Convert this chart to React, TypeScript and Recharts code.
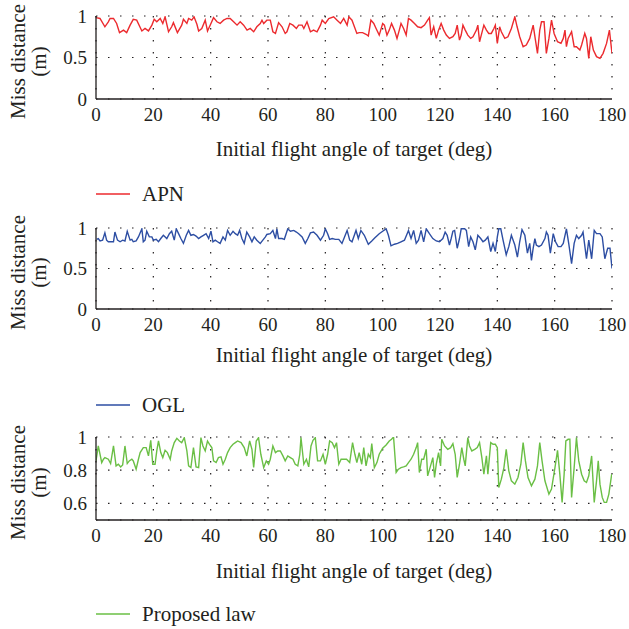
import React from 'react';
import { LineChart, Line, XAxis, YAxis, CartesianGrid } from 'recharts';

// Miss distance (m) against the initial flight angle of the target (deg): [angle, miss]
const apnSamples: [number, number][] = [
  [0, 0.98], [1.4, 0.97], [3.1, 0.87], [4.3, 0.93], [4.9, 0.97], [6.1, 0.97], [7.2, 0.91], [8.2, 0.8], [9.6, 0.83], [10.7, 0.8],
  [11.9, 0.89], [13.0, 0.96], [14.2, 0.95], [16.0, 0.82], [17.1, 0.85], [18.3, 0.82], [19.5, 0.89], [20.3, 0.96], [21.2, 0.93], [22.4, 0.97],
  [23.3, 0.91], [24.1, 0.99], [25.3, 0.81], [26.4, 0.87], [27.0, 0.92], [28.4, 0.8], [29.9, 0.89], [30.5, 0.96], [31.7, 0.91], [32.3, 0.97],
  [33.4, 0.95], [34.2, 0.99], [35.2, 0.9], [35.8, 0.82], [36.9, 0.85], [38.1, 0.95], [38.9, 0.82], [40.1, 0.91], [41.0, 0.98], [42.2, 0.93],
  [43.3, 0.91], [44.5, 0.95], [45.7, 0.97], [46.8, 0.97], [48.0, 0.93], [49.2, 0.89], [50.3, 0.93], [51.5, 0.89], [52.7, 0.83], [53.8, 0.85],
  [55.0, 0.81], [56.1, 0.87], [57.3, 0.91], [57.9, 0.95], [58.5, 0.91], [59.6, 0.95], [60.8, 0.95], [61.7, 0.81], [62.6, 0.79], [63.7, 0.92],
  [64.9, 0.87], [66.0, 0.79], [66.6, 0.81], [67.6, 0.91], [68.7, 0.89], [69.9, 0.85], [70.7, 0.89], [71.9, 0.89], [72.5, 0.85], [73.6, 0.93],
  [74.8, 0.81], [75.9, 0.83], [77.1, 0.81], [78.3, 0.89], [78.9, 0.95], [80.0, 0.91], [81.2, 0.97], [82.9, 0.99], [84.1, 0.95], [85.3, 0.91],
  [86.4, 0.97], [87.6, 0.89], [88.2, 0.99], [89.3, 0.95], [91.0, 0.79], [91.8, 0.8], [93.0, 0.8], [94.2, 0.78], [95.0, 0.76], [95.9, 0.95],
  [96.9, 0.91], [97.7, 0.85], [98.8, 0.77], [100.0, 0.91], [100.6, 0.89], [101.5, 0.77], [102.3, 0.83], [103.1, 0.91], [104.1, 0.83], [105.0, 0.73],
  [105.8, 0.83], [106.4, 0.91], [107.3, 0.85], [108.2, 0.77], [109.0, 0.97], [109.9, 0.95], [111.1, 0.91], [112.2, 0.87], [113.4, 0.86], [114.6, 0.89],
  [115.7, 0.95], [116.3, 0.98], [116.9, 0.77], [117.8, 0.87], [118.7, 0.73], [119.5, 0.83], [120.4, 0.91], [121.3, 0.83], [122.2, 0.77], [123.3, 0.73],
  [124.5, 0.75], [125.3, 0.79], [126.0, 0.89], [126.8, 0.71], [127.4, 0.77], [128.0, 0.89], [128.8, 0.83], [129.7, 0.77], [130.7, 0.73], [131.5, 0.75],
  [132.7, 0.83], [133.2, 0.89], [133.8, 0.69], [134.4, 0.77], [135.3, 0.89], [136.2, 0.83], [137.0, 0.79], [137.9, 0.79], [138.8, 0.85], [139.3, 0.89],
  [140.0, 0.67], [140.8, 0.87], [141.4, 0.81], [142.6, 0.73], [143.7, 0.75], [144.9, 0.85], [146.1, 0.99], [146.9, 0.87], [147.8, 0.75], [149.0, 0.63],
  [150.1, 0.65], [151.3, 0.73], [152.5, 0.89], [153.3, 0.71], [154.0, 0.55], [154.8, 0.83], [155.4, 0.93], [156.3, 0.93], [157.1, 0.55], [158.0, 0.73],
  [158.9, 0.95], [159.8, 0.79], [161.0, 0.69], [162.2, 0.67], [163.0, 0.73], [163.6, 0.83], [164.1, 0.63], [164.7, 0.73], [165.9, 0.81], [166.8, 0.63],
  [167.6, 0.63], [168.8, 0.59], [169.4, 0.65], [170.5, 0.79], [171.1, 0.73], [171.9, 0.49], [172.6, 0.75], [173.5, 0.59], [174.6, 0.51], [175.8, 0.49],
  [176.9, 0.55], [178.1, 0.67], [179.1, 0.83], [180, 0.55],
];

const oglSamples: [number, number][] = [
  [0.2, 0.86], [0.8, 0.87], [1.4, 0.84], [2.3, 0.85], [3.1, 0.94], [3.7, 0.85], [4.3, 0.83], [5.1, 0.83], [6.1, 0.83], [6.6, 0.95],
  [7.5, 0.85], [8.4, 0.83], [9.3, 0.85], [10.1, 0.84], [10.9, 0.96], [11.9, 0.85], [12.5, 0.86], [13.0, 0.83], [14.0, 0.84], [14.8, 0.89],
  [16.0, 0.99], [16.5, 0.83], [17.1, 0.85], [17.7, 0.96], [18.6, 0.89], [19.5, 0.89], [20.0, 0.85], [21.0, 0.86], [21.8, 0.83], [22.6, 0.87],
  [23.5, 0.91], [24.7, 0.87], [25.6, 0.93], [26.4, 0.96], [27.3, 0.85], [28.0, 0.99], [28.8, 0.93], [29.6, 0.87], [30.5, 0.81], [31.5, 0.91],
  [32.3, 0.97], [33.1, 0.91], [34.0, 0.92], [34.9, 0.9], [35.8, 0.87], [36.6, 0.89], [37.5, 0.91], [38.4, 0.93], [39.3, 0.87], [40.1, 0.96],
  [40.8, 0.83], [41.6, 0.85], [42.4, 0.83], [43.3, 0.81], [44.3, 0.89], [45.1, 0.85], [45.9, 0.97], [46.8, 0.91], [47.8, 0.96], [48.6, 0.93],
  [49.4, 0.91], [50.1, 0.97], [50.9, 0.87], [51.7, 0.81], [52.6, 0.95], [53.6, 0.89], [54.4, 0.83], [55.2, 0.89], [56.1, 0.85], [57.3, 0.81],
  [58.2, 0.85], [59.1, 0.89], [59.6, 0.92], [60.8, 0.93], [61.7, 0.97], [62.6, 0.87], [63.1, 0.99], [63.7, 0.87], [64.9, 0.87], [65.7, 0.86],
  [66.9, 0.99], [67.8, 0.96], [69.0, 0.97], [69.9, 0.95], [70.7, 0.93], [71.9, 0.89], [73.0, 0.81], [73.9, 0.87], [74.8, 0.94], [75.9, 0.95],
  [77.1, 0.91], [78.3, 0.85], [79.4, 0.91], [80.0, 0.99], [80.8, 0.93], [81.5, 0.86], [82.4, 0.87], [83.5, 0.86], [84.7, 0.86], [85.8, 0.81],
  [86.7, 0.89], [87.6, 0.97], [88.5, 0.85], [89.3, 0.83], [89.9, 0.89], [90.7, 0.97], [91.5, 0.87], [92.4, 0.97], [93.6, 0.91], [95.0, 0.8],
  [96.2, 0.84], [97.3, 0.88], [98.8, 0.93], [100.0, 0.96], [101.2, 0.99], [102.0, 0.91], [102.9, 0.78], [104.1, 0.8], [105.2, 0.81], [106.4, 0.83],
  [107.6, 0.85], [109.0, 0.97], [109.9, 0.87], [110.8, 0.97], [111.7, 0.81], [112.5, 0.85], [113.4, 0.97], [114.3, 0.83], [115.2, 0.99], [116.3, 0.93],
  [117.5, 0.87], [118.7, 0.84], [119.8, 0.83], [121.0, 0.87], [121.8, 0.95], [122.5, 0.91], [123.3, 0.79], [123.9, 0.87], [124.5, 0.96], [125.1, 0.97],
  [126.0, 0.75], [126.8, 0.87], [127.4, 0.99], [128.6, 0.99], [129.2, 0.97], [130.0, 0.77], [130.7, 0.89], [131.5, 0.83], [132.3, 0.73], [133.2, 0.91],
  [134.2, 0.87], [135.0, 0.83], [135.8, 0.85], [136.7, 0.89], [137.7, 0.71], [138.5, 0.81], [139.3, 0.71], [140.0, 0.89], [140.5, 0.99], [141.2, 0.99],
  [142.0, 0.85], [143.1, 0.67], [144.0, 0.77], [144.9, 0.91], [146.1, 0.79], [147.0, 0.64], [147.8, 0.83], [148.6, 0.98], [149.6, 0.91], [150.5, 0.69],
  [151.3, 0.81], [151.9, 0.6], [152.5, 0.75], [153.1, 0.87], [153.6, 0.79], [154.5, 0.77], [155.4, 0.79], [156.6, 0.87], [157.1, 0.95], [157.7, 0.91],
  [158.5, 0.69], [159.5, 0.93], [160.3, 0.83], [161.2, 0.77], [162.2, 0.77], [163.0, 0.81], [164.1, 0.99], [164.9, 0.81], [165.9, 0.56], [166.8, 0.81],
  [167.6, 0.91], [168.4, 0.87], [169.4, 0.91], [169.9, 0.95], [171.1, 0.62], [171.9, 0.85], [172.9, 0.62], [173.8, 0.97], [174.6, 0.93], [175.8, 0.93],
  [176.6, 0.89], [177.5, 0.62], [178.5, 0.75], [179.3, 0.75], [180, 0.5],
];

const proposedSamples: [number, number][] = [
  [0, 0.856], [0.8, 0.946], [2.0, 0.846], [2.6, 0.866], [3.1, 0.876], [4.3, 0.866], [5.1, 0.84], [6.1, 0.946], [7.0, 0.826], [7.8, 0.836],
  [8.6, 0.82], [9.3, 0.832], [10.1, 0.946], [10.9, 0.84], [11.6, 0.856], [12.5, 0.866], [13.0, 0.856], [14.0, 0.806], [14.8, 0.866], [15.4, 0.906],
  [16.5, 0.936], [17.5, 0.936], [18.3, 0.886], [19.1, 0.98], [19.8, 0.836], [20.6, 0.836], [21.2, 0.916], [21.8, 0.976], [22.6, 0.906], [23.3, 0.876],
  [24.1, 0.92], [24.9, 0.906], [25.9, 0.866], [26.4, 0.916], [27.3, 0.966], [28.2, 0.992], [29.1, 0.976], [29.9, 0.966], [30.8, 0.996], [31.7, 0.916],
  [32.3, 0.826], [33.1, 0.816], [34.0, 0.936], [34.9, 0.82], [35.8, 0.816], [36.6, 0.996], [37.3, 0.946], [38.1, 0.916], [38.9, 0.976], [39.6, 0.956],
  [40.4, 0.936], [41.0, 0.856], [41.9, 0.846], [42.7, 0.876], [43.6, 0.88], [44.3, 0.836], [45.1, 0.866], [45.9, 0.906], [46.8, 0.936], [47.8, 0.956],
  [48.6, 0.966], [49.4, 0.976], [50.6, 0.966], [51.7, 0.936], [52.6, 0.886], [53.6, 0.976], [54.4, 0.926], [55.0, 0.816], [55.9, 0.976], [56.7, 0.996],
  [57.5, 0.896], [58.5, 0.816], [59.4, 0.856], [60.2, 0.836], [60.8, 0.866], [61.7, 0.946], [62.6, 0.906], [63.4, 0.916], [64.3, 0.916], [65.2, 0.886],
  [66.0, 0.856], [66.9, 0.886], [67.8, 0.876], [68.7, 0.866], [69.5, 0.836], [70.4, 0.826], [71.1, 0.896], [71.5, 0.996], [72.5, 0.836], [73.4, 0.866],
  [74.2, 0.82], [75.0, 0.946], [75.7, 0.98], [76.5, 0.996], [77.3, 0.856], [78.3, 0.856], [79.2, 0.896], [80.0, 0.836], [80.8, 0.896], [81.5, 0.976],
  [82.4, 0.966], [83.2, 0.936], [83.9, 0.966], [84.7, 0.836], [85.5, 0.866], [86.4, 0.866], [87.4, 0.866], [88.5, 0.846], [89.5, 0.966], [90.3, 0.896],
  [91.0, 0.846], [91.8, 0.906], [92.7, 0.836], [93.4, 0.936], [94.2, 0.826], [95.0, 0.896], [95.7, 0.876], [96.2, 0.96], [97.1, 0.816], [98.0, 0.846],
  [98.8, 0.896], [100.0, 0.932], [101.2, 0.952], [102.3, 0.976], [103.1, 0.986], [103.8, 1.0], [104.7, 0.786], [105.5, 0.806], [106.4, 0.816], [107.3, 0.82],
  [108.2, 0.826], [109.0, 0.846], [109.9, 0.866], [110.8, 0.896], [111.7, 0.936], [112.2, 0.966], [112.8, 0.786], [113.6, 0.866], [114.3, 0.866], [115.2, 0.926],
  [115.7, 0.766], [116.7, 0.826], [117.5, 0.876], [118.1, 0.756], [118.7, 0.836], [119.5, 0.906], [120.2, 0.826], [120.6, 0.986], [121.6, 0.946], [122.7, 0.926],
  [123.7, 0.936], [124.5, 0.96], [125.3, 0.896], [126.0, 0.756], [126.8, 0.836], [127.6, 0.936], [128.3, 0.866], [128.8, 0.826], [129.7, 0.996], [130.3, 0.946],
  [131.1, 0.916], [132.1, 0.926], [133.0, 0.936], [133.8, 0.966], [134.6, 0.876], [135.3, 0.776], [136.2, 0.886], [136.7, 0.776], [137.7, 0.966], [138.5, 0.956],
  [139.3, 0.956], [140.0, 0.936], [140.5, 0.696], [141.4, 0.746], [142.3, 0.816], [143.1, 0.926], [144.0, 0.796], [144.9, 0.736], [146.1, 0.716], [147.2, 0.756],
  [148.2, 0.836], [149.0, 0.966], [149.8, 0.856], [150.7, 0.756], [151.9, 0.706], [153.1, 0.746], [154.0, 0.826], [154.8, 0.966], [155.6, 0.856], [156.6, 0.736],
  [158.0, 0.656], [158.9, 0.686], [160.1, 0.816], [161.0, 0.92], [161.8, 0.776], [162.6, 0.606], [163.3, 0.776], [163.9, 0.976], [164.7, 0.986], [165.3, 0.986],
  [165.9, 0.636], [166.8, 0.816], [167.6, 0.996], [168.4, 0.856], [169.4, 0.776], [170.3, 0.736], [171.1, 0.726], [171.9, 0.766], [172.9, 0.886], [173.8, 0.606],
  [174.6, 0.736], [175.2, 0.856], [175.8, 0.716], [176.6, 0.636], [177.3, 0.606], [178.1, 0.606], [178.9, 0.656], [179.9, 0.776],
];

const angleTicks = [0, 20, 40, 60, 80, 100, 120, 140, 160, 180];
const angleMinorTicks = [
  0, 4, 8, 12, 16, 20, 24, 28, 32, 36, 40, 44, 48, 52, 56, 60, 64, 68, 72, 76, 80, 84, 88,
  92, 96, 100, 104, 108, 112, 116, 120, 124, 128, 132, 136, 140, 144, 148, 152, 156, 160, 164, 168, 172, 176, 180,
];
const missTicksWide = [0, 0.5, 1];
const missTicksNarrow = [0.6, 0.8, 1];

const xTitle = 'Initial flight angle of target (deg)';
const yTitle = ['Miss distance', '(m)'];

const INK = '#231f20';
const FONT = '"Liberation Serif", "DejaVu Serif", serif';
const TICK_SIZE = 19;
const TITLE_SIZE = 21;
const CHART_W = 629;
const PANEL_H = 205;
const PLOT_LEFT = 96;
const PLOT_RIGHT = 612;
const Y_AXIS_W = 50;
const X_AXIS_H = 30;

const blankTick = () => <g />;

type PanelProps = {
  top: number;
  plotTop: number;
  plotH: number;
  domain: [number, number];
  yTicks: number[];
  color: string;
  name: string;
  samples: [number, number][];
  titleDy: number;
  legendY: number;
};

function Panel({ top, plotTop, plotH, domain, yTicks, color, name, samples, titleDy, legendY }: PanelProps) {
  const data = samples.map(([angle, miss]) => ({ angle, miss }));
  const bottomMargin = PANEL_H - plotTop - plotH - X_AXIS_H;
  const tickStyle = { fill: INK, fontSize: TICK_SIZE, fontFamily: FONT };

  const renderXTitle = (props: any) => {
    const vb = props.viewBox || {};
    return (
      <text x={vb.x + vb.width / 2} y={vb.y + titleDy} textAnchor="middle" fill={INK} fontSize={TITLE_SIZE} fontFamily={FONT}>
        {xTitle}
      </text>
    );
  };

  const renderYTitle = (props: any) => {
    const vb = props.viewBox || {};
    const cy = vb.y + vb.height / 2 + 4;
    return (
      <g>
        <text x={25} y={cy} transform={`rotate(-90 25 ${cy})`} textAnchor="middle" fill={INK} fontSize={TITLE_SIZE} fontFamily={FONT}>
          {yTitle[0]}
        </text>
        <text x={46} y={cy} transform={`rotate(-90 46 ${cy})`} textAnchor="middle" fill={INK} fontSize={TITLE_SIZE} fontFamily={FONT}>
          {yTitle[1]}
        </text>
      </g>
    );
  };

  return (
    <div style={{ position: 'absolute', left: 0, top, width: CHART_W, height: PANEL_H }}>
      <LineChart
        width={CHART_W}
        height={PANEL_H}
        data={data}
        margin={{ top: plotTop, right: CHART_W - PLOT_RIGHT, left: PLOT_LEFT - Y_AXIS_W, bottom: bottomMargin }}
      >
        <CartesianGrid xAxisId="x" yAxisId="y" stroke={INK} strokeWidth={1.2} strokeDasharray="1.5 10.5" />
        <XAxis
          xAxisId="x"
          type="number"
          dataKey="angle"
          domain={[0, 180]}
          ticks={angleTicks}
          interval={0}
          allowDataOverflow
          height={X_AXIS_H}
          tickLine={false}
          tickSize={0}
          tickMargin={9}
          axisLine={{ stroke: INK, strokeWidth: 1.3 }}
          tick={tickStyle}
          label={{ content: renderXTitle }}
        />
        <XAxis xAxisId="xbMajor" type="number" domain={[0, 180]} ticks={angleTicks} interval={0} mirror height={0} axisLine={false} tickSize={5} tickLine={{ stroke: INK }} tick={blankTick} />
        <XAxis xAxisId="xbMinor" type="number" domain={[0, 180]} ticks={angleMinorTicks} interval={0} mirror height={0} axisLine={false} tickSize={2.5} tickLine={{ stroke: '#888' }} tick={blankTick} />
        <XAxis xAxisId="xtMajor" orientation="top" type="number" domain={[0, 180]} ticks={angleTicks} interval={0} mirror height={0} axisLine={{ stroke: INK, strokeWidth: 1.3 }} tickSize={5} tickLine={{ stroke: INK }} tick={blankTick} />
        <XAxis xAxisId="xtMinor" orientation="top" type="number" domain={[0, 180]} ticks={angleMinorTicks} interval={0} mirror height={0} axisLine={false} tickSize={2.5} tickLine={{ stroke: '#888' }} tick={blankTick} />
        <YAxis
          yAxisId="y"
          type="number"
          domain={domain}
          ticks={yTicks}
          interval={0}
          allowDataOverflow
          width={Y_AXIS_W}
          tickLine={false}
          tickSize={0}
          tickMargin={9}
          axisLine={{ stroke: INK, strokeWidth: 1.3 }}
          tick={tickStyle}
          label={{ content: renderYTitle }}
        />
        <YAxis yAxisId="ylMajor" type="number" domain={domain} ticks={yTicks} interval={0} mirror width={0} axisLine={false} tickSize={5} tickLine={{ stroke: INK }} tick={blankTick} />
        <YAxis yAxisId="yrMajor" orientation="right" type="number" domain={domain} ticks={yTicks} interval={0} mirror width={0} axisLine={{ stroke: INK, strokeWidth: 1.3 }} tickSize={5} tickLine={{ stroke: INK }} tick={blankTick} />
        <Line
          xAxisId="x"
          yAxisId="y"
          type="linear"
          dataKey="miss"
          name={name}
          stroke={color}
          strokeWidth={1.4}
          dot={false}
          activeDot={false}
          isAnimationActive={false}
        />
      </LineChart>
      <svg style={{ position: 'absolute', left: 0, top: legendY - 12 }} width={320} height={24}>
        <line x1={96} x2={130} y1={12} y2={12} stroke={color} strokeWidth={1.4} />
        <text x={142} y={19} fill={INK} fontSize={TITLE_SIZE} fontFamily={FONT}>
          {name}
        </text>
      </svg>
    </div>
  );
}

export default function App() {
  return (
    <div style={{ position: 'absolute', left: 0, top: 0, width: CHART_W, height: 629, background: '#fff', overflow: 'hidden' }}>
      <Panel top={0} plotTop={16} plotH={83} domain={[0, 1]} yTicks={missTicksWide} color="#ec2a2e" name="APN" samples={apnSamples} titleDy={57} legendY={194} />
      <Panel top={210} plotTop={18} plotH={81} domain={[0, 1]} yTicks={missTicksWide} color="#2d4ea3" name="OGL" samples={oglSamples} titleDy={53} legendY={195} />
      <Panel top={420} plotTop={17} plotH={83} domain={[0.5, 1]} yTicks={missTicksNarrow} color="#6abf45" name="Proposed law" samples={proposedSamples} titleDy={58} legendY={194} />
    </div>
  );
}
